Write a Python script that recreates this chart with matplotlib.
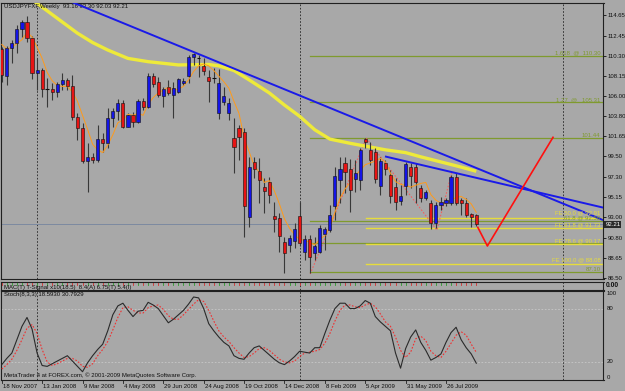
import matplotlib.pyplot as plt
from matplotlib.transforms import blended_transform_factory

plt.rcParams['font.family'] = ['Liberation Sans', 'DejaVu Sans']

# USDJPY weekly bars, 18 Nov 2007 .. 30 Aug 2009 (bar index 0..94)
opens = [110.97, 108.15, 111.08, 111.62, 113.15, 113.93, 112.15, 108.47, 108.72, 106.69,
         106.69, 106.36, 107.25, 107.68, 107.04, 103.69, 102.57, 99.03, 99.47, 99.11,
         101.33, 100.9, 103.58, 104.36, 105.25, 102.68, 103.93, 103.22, 105.43, 104.82,
         108.11, 107.5, 105.97, 106.97, 106.08, 106.43, 107.33, 108.11, 110.12, 110.05,
         109.18, 107.97, 107.87, 104.11, 105.36, 104.11, 101.5, 102.5, 102.1, 93.03,
         98.93, 97.93, 96.25, 96.72, 93.11, 92.92, 90.35, 90.0, 90.46, 93.11,
         89.28, 90.6, 89.17, 89.28, 91.18, 91.61, 94.18, 96.97, 98.83, 98.11,
         97.04, 96.97, 101.36, 100.18, 100.0, 96.32, 98.76, 97.5, 96.25, 94.75,
         96.32, 98.4, 98.33, 96.07, 95.0, 94.47, 92.39, 94.29, 94.47, 94.54,
         97.25, 94.82, 94.54, 93.29, 93.16]
highs = [111.2, 111.3, 111.97, 113.58, 114.11, 114.54, 112.4, 110.0, 108.94, 107.87,
         107.33, 107.5, 108.4, 107.87, 108.22, 104.11, 103.04, 100.9, 99.83, 102.86,
         101.97, 104.65, 104.65, 105.61, 105.54, 104.11, 104.29, 105.61, 105.72, 108.4,
         108.4, 108.04, 106.97, 107.68, 107.5, 107.87, 107.87, 110.36, 110.54, 110.36,
         110.01, 108.76, 108.94, 108.83, 106.97, 105.72, 103.58, 102.86, 102.5, 99.47,
         99.4, 99.29, 97.15, 97.32, 94.64, 93.4, 90.89, 91.07, 92.32, 94.64,
         91.07, 91.07, 90.89, 92.14, 91.96, 94.29, 98.4, 99.47, 99.47, 99.18,
         99.11, 100.36, 101.44, 101.07, 100.36, 99.47, 99.11, 98.04, 97.15, 96.43,
         98.93, 98.76, 98.76, 96.43, 95.9, 94.82, 94.64, 95.18, 95.0, 97.5,
         97.68, 95.0, 95.0, 93.4, 93.30]
lows = [107.5, 107.15, 109.47, 110.55, 112.32, 111.8, 107.76, 106.61, 105.83, 104.82,
        105.54, 105.83, 106.61, 106.61, 103.4, 101.25, 98.76, 95.71, 98.76, 98.93,
        100.0, 100.36, 102.68, 103.4, 102.5, 102.61, 102.61, 103.04, 104.47, 104.65,
        106.97, 105.9, 104.82, 106.08, 103.58, 106.26, 107.15, 107.33, 109.29, 108.04,
        108.22, 105.36, 107.33, 103.47, 105.0, 103.4, 97.75, 99.11, 90.82, 91.96,
        97.15, 94.47, 93.4, 94.47, 91.43, 89.28, 86.97, 89.28, 89.64, 89.9,
        88.39, 86.97, 88.39, 89.1, 89.46, 91.43, 92.68, 94.47, 95.54, 93.57,
        95.72, 95.9, 100.36, 98.57, 96.61, 95.36, 97.5, 94.47, 93.75, 94.29,
        95.36, 96.07, 94.47, 94.64, 94.82, 91.68, 91.79, 93.75, 94.2, 94.29,
        94.29, 93.21, 93.04, 91.9, 92.03]
closes = [108.22, 111.08, 111.62, 113.15, 113.93, 112.15, 108.47, 108.72, 106.69, 106.72,
          106.36, 107.25, 107.68, 107.04, 103.69, 102.57, 99.03, 99.47, 99.11, 101.33,
          100.9, 103.58, 104.36, 105.25, 102.68, 103.93, 103.22, 105.43, 104.82, 108.11,
          107.22, 106.08, 106.69, 106.26, 106.86, 107.76, 107.61, 110.12, 110.44, 110.01,
          108.68, 107.61, 107.85, 107.33, 105.97, 105.25, 100.47, 101.54, 94.18, 98.4,
          98.11, 96.97, 95.79, 95.36, 92.75, 90.96, 89.17, 90.71, 91.68, 90.25,
          90.6, 88.68, 89.89, 91.79, 91.68, 93.21, 97.39, 98.11, 97.86, 95.9,
          97.75, 100.18, 101.07, 99.11, 97.04, 99.03, 98.11, 95.25, 94.64, 95.25,
          98.68, 97.39, 96.72, 95.0, 95.72, 92.32, 94.29, 94.64, 94.82, 97.25,
          94.54, 94.54, 93.21, 93.04, 92.21]

# thin orange moving average, read per bar
ma_fast = [111.5, 111.0, 111.2, 111.6, 112.0, 112.8, 112.3, 111.2, 110.0, 108.5,
           107.6, 107.1, 107.0, 107.0, 106.4, 105.4, 103.9, 102.4, 100.8, 100.2,
           99.9, 100.7, 101.8, 103.1, 103.4, 104.0, 103.9, 104.1, 103.9, 105.1,
           105.8, 106.3, 106.6, 106.9, 106.6, 106.7, 107.0, 107.7, 108.6, 109.2,
           109.4, 109.2, 108.7, 108.1, 107.5, 106.8, 105.4, 104.1, 101.5, 100.0,
           98.5, 97.8, 96.7, 96.9, 95.8, 94.4, 92.8, 91.8, 91.1, 90.6,
           90.5, 90.3, 90.0, 90.6, 91.0, 91.9, 93.5, 95.0, 96.0, 96.7,
           97.4, 98.0, 98.6, 98.8, 99.0, 99.3, 98.9, 97.7, 96.8, 96.5,
           96.4, 96.2, 96.4, 96.6, 96.7, 95.4, 94.8, 94.5, 94.4, 94.8,
           95.1, 95.2, 94.9, 94.4, 93.5]

# thick yellow moving average, read at these bars
ma_slow_bars = [6, 9, 12, 15, 18, 21, 25, 29, 35, 41, 43, 46, 49, 53, 56, 59, 62, 65,
                69, 72, 76, 80, 83, 87, 91, 94]
ma_slow = [116.3, 115.1, 113.9, 112.7, 111.7, 110.9, 110.0, 109.65, 109.3, 109.35, 109.2,
           108.7, 107.7, 106.3, 105.0, 103.8, 102.35, 101.35, 100.9, 100.6, 100.2, 99.9,
           99.45, 98.9, 98.35, 97.9]

# Stochastic(8,3,3)
stoch_k = [17, 24, 30, 45, 60, 70, 57, 30, 16, 15, 18, 21, 24, 27, 21, 15, 9, 19, 27, 34,
           40, 55, 73, 83, 86, 78, 71, 77, 78, 87, 84, 80, 72, 64, 68, 73, 78, 85, 93, 92,
           80, 63, 55, 48, 42, 38, 27, 24, 23, 30, 36, 38, 33, 28, 23, 19, 17, 21, 26, 32,
           31, 30, 36, 36, 52, 67, 80, 86, 86, 80, 80, 83, 89, 86, 71, 65, 60, 55, 30, 13,
           35, 48, 56, 42, 33, 22, 25, 29, 42, 53, 59, 45, 36, 29, 18.593]
stoch_d = [12, 17, 23, 33, 45, 58, 62, 52, 34, 20, 16, 18, 21, 24, 24, 21, 15, 14, 18, 27,
           34, 43, 56, 70, 81, 82, 78, 75, 75, 81, 83, 84, 79, 72, 68, 68, 73, 79, 85, 90,
           88, 78, 66, 55, 48, 43, 36, 30, 25, 26, 30, 35, 36, 33, 28, 23, 20, 19, 21, 26,
           30, 31, 32, 34, 41, 52, 66, 78, 84, 84, 82, 81, 84, 86, 82, 74, 65, 60, 48, 33,
           25, 31, 46, 49, 44, 32, 27, 25, 32, 41, 50, 54, 50, 40, 30.7929]

# trendlines and drawn objects (bar, price)
trend_main = ([13.9, 119.1], [116.04, 92.68])
trend_second = ([76.1, 119.1], [99.47, 94.01])
projection = ([94.3, 96.2, 109.2], [91.89, 89.89, 101.54])
fibo_ab = ([61.1, 72.2], [86.89, 101.44])
fe_abc = ([72.2, 86.2, 89.1], [101.44, 91.6, 97.68])

fib_levels = [110.30, 105.31, 101.44, 92.58, 90.17, 87.10]
fib_labels = ['1.618  @  110.30', '1.27  @   105.31', '101.44', '61.8 @ 92.58', '', '87.10']
fe_levels = [92.86, 91.79, 90.12, 88.0]
fe_labels = ['FE 50.0 @ 92.91', 'FE 61.8 @ 91.73', 'FE 78.6 @ 90.17', 'FE 100.0 @ 88.08']

price_ticks = [114.65, 112.45, 110.30, 108.15, 106.00, 103.80, 101.65, 99.50, 97.30,
               95.15, 93.00, 90.80, 88.65, 86.50]
date_bars = [0, 8, 16, 24, 32, 40, 48, 56, 64, 72, 80, 88]
date_labels = ['18 Nov 2007', '13 Jan 2008', '9 Mar 2008', '4 May 2008', '29 Jun 2008',
               '24 Aug 2008', '19 Oct 2008', '14 Dec 2008', '8 Feb 2009', '5 Apr 2009',
               '31 May 2009', '26 Jul 2009']
year_breaks = [7.0, 59.1, 111.2]
bid = 92.21

BG = '#a8a8a8'
FS = 4.3
W, H = 625, 391

fig = plt.figure(figsize=(6.25, 3.91), dpi=100, facecolor=BG)


def box(x0, y0, x1, y1):
    return [x0 / W, 1 - y1 / H, (x1 - x0) / W, (y1 - y0) / H]


ax = fig.add_axes(box(1.5, 3, 603.5, 279.3), facecolor=BG)
ax_sig = fig.add_axes(box(1.5, 281.5, 603.5, 290.3), facecolor=BG)
ax_st = fig.add_axes(box(1.5, 290.5, 603.5, 380), facecolor=BG)

for a in (ax, ax_sig, ax_st):
    a.set_xlim(-0.05, 119.2)
    for s in a.spines.values():
        s.set_color('#202020')
        s.set_linewidth(0.8)
    a.tick_params(axis='x', bottom=False, labelbottom=False)
    for xb in year_breaks:
        a.axvline(xb, color='#222222', lw=0.6, ls=(0, (2, 2)), zorder=1)

ax.set_ylim(86.32, 115.94)

# levels
for lv in fib_levels:
    ax.plot([fibo_ab[0][0], 119.2], [lv, lv], color='#7f9a2e', lw=0.9, zorder=2)
for lv in fe_levels:
    ax.plot([fe_abc[0][0], 119.2], [lv, lv], color='#e6dc3c', lw=1.0, zorder=2)
ax.axhline(bid, color='#7c8aa0', lw=0.7, zorder=2)

ax.plot(fibo_ab[0], fibo_ab[1], color='#f06060', lw=0.8, ls=(0, (1.5, 1.5)), zorder=3)
ax.plot(fe_abc[0], fe_abc[1], color='#f06060', lw=0.8, ls=(0, (1.5, 1.5)), zorder=3)

# moving averages
ax.plot(ma_slow_bars, ma_slow, color='#eeea3a', lw=2.4, zorder=3, solid_capstyle='butt')
ax.plot(range(len(ma_fast)), ma_fast, color='#ff9a1a', lw=0.7, zorder=5)

# candles
for i, (o, h, l, c) in enumerate(zip(opens, highs, lows, closes)):
    ax.vlines(i, l, h, color='#383838', lw=0.8, zorder=4)
    if abs(c - o) < 0.06:
        ax.hlines(o, i - 0.35, i + 0.35, color='#101010', lw=0.8, zorder=6)
    else:
        col = '#1414e6' if c > o else '#e61414'
        ax.bar(i, abs(c - o), bottom=min(o, c), width=0.62, color=col,
               edgecolor='#101010', linewidth=0.4, zorder=6)

# trendlines and projection
ax.plot(*trend_main, color='#1a1ae8', lw=1.4, zorder=7)
ax.plot(*trend_second, color='#1a1ae8', lw=1.4, zorder=7)
ax.plot(*projection, color='#ff1010', lw=1.2, zorder=7)

# level labels
for lv, t in zip(fib_levels, fib_labels):
    if t:
        ax.text(118.6, lv + 0.03, t, color='#7f9a2e', fontsize=FS, ha='right', va='bottom', zorder=8)
for lv, t in zip(fe_levels, fe_labels):
    dy = 0.28 if lv > 92.7 else 0.1
    ax.text(118.6, lv + dy, t, color='#e6dc3c', fontsize=FS, ha='right', va='bottom', zorder=8)

# price axis
ax.yaxis.tick_right()
ax.set_yticks(price_ticks)
ax.set_yticklabels([f'{p:.2f}' for p in price_ticks])
ax.tick_params(axis='y', length=2, width=0.6, pad=1, labelsize=FS, colors='#101010')
ax.text(1.003, bid, f'{bid:.2f}', transform=blended_transform_factory(ax.transAxes, ax.transData),
        fontsize=FS, color='white', va='center', ha='left',
        bbox=dict(boxstyle='square,pad=0.15', fc='#2a2a2a', ec='none'))

ax.text(0.004, 0.995, f'USDJPYFXF,Weekly  {opens[-1]:.2f} {highs[-1]:.2f} {lows[-1]:.2f} {closes[-1]:.2f}',
        transform=ax.transAxes, fontsize=FS, va='top', ha='left', color='#101010')

# signal strip: one small mark per bar, green on up bars, red on down bars
ax_sig.set_ylim(0, 1)
ax_sig.set_yticks([])
for i, (o, c) in enumerate(zip(opens, closes)):
    ax_sig.plot([i, i], [0.62, 0.9], color='#2e9a2e' if c > o else '#d03030', lw=0.6, zorder=2)
ax_sig.text(0.004, 0.35, 'MAC(T) T-Signal x10(18.5)  8.4(A) 6.75(T) 5.4(I)', transform=ax_sig.transAxes,
            fontsize=FS, va='center', ha='left', color='#101010', zorder=3)
ax_sig.text(1.004, 0.5, '0.00', transform=ax_sig.transAxes, fontsize=FS + 0.5, va='center',
            ha='left', color='#101010', fontweight='bold')

# stochastic
ax_st.set_ylim(-0.3, 100.3)
ax_st.set_yticks([])
for lv in (20, 80):
    ax_st.axhline(lv, color='#c8c8c8', lw=0.6, ls=(0, (2, 2)))
ax_st.plot(range(len(stoch_k)), stoch_k, color='#2a2a2a', lw=0.8, zorder=4)
ax_st.plot(range(len(stoch_d)), stoch_d, color='#f03030', lw=0.8, ls=(0, (1.5, 1.5)), zorder=3)
tr = blended_transform_factory(ax_st.transAxes, ax_st.transData)
for lv, va in ((100, 'top'), (80, 'center'), (20, 'center'), (0, 'bottom')):
    ax_st.text(1.005, lv, str(lv), transform=tr, fontsize=FS, va=va, ha='left', color='#101010')
ax_st.text(0.004, 0.985, f'Stoch(8,3,3) {stoch_k[-1]:.4f} {stoch_d[-1]:.4f}',
           transform=ax_st.transAxes, fontsize=FS, va='top', ha='left', color='#101010')
ax_st.text(0.004, 0.02, 'MetaTrader 4 at FOREX.com, \u00a9 2001-2009 MetaQuotes Software Corp.',
           transform=ax_st.transAxes, fontsize=FS, va='bottom', ha='left', color='#101010')

trx = ax_st.get_xaxis_transform()
for b, t in zip(date_bars, date_labels):
    ax_st.plot([b, b], [0, -0.03], transform=trx, color='#202020', lw=0.6, clip_on=False)
    ax_st.text(b + 0.2, -0.075, t, transform=trx, fontsize=FS, va='center', ha='left', color='#101010')

fig.savefig('out.png', dpi=100, facecolor=BG)
